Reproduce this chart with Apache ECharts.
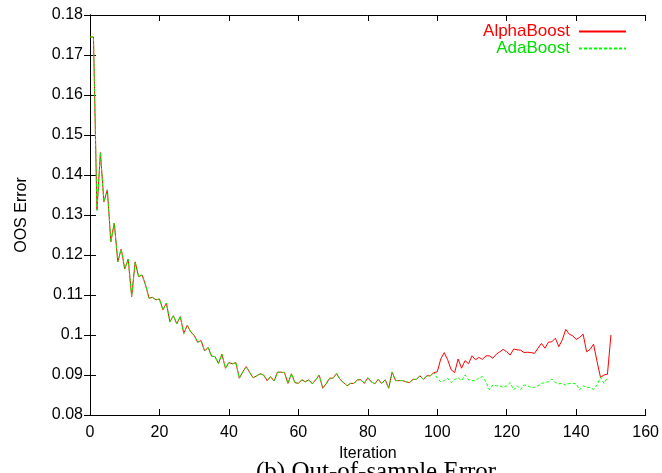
<!DOCTYPE html>
<html>
<head>
<meta charset="utf-8">
<script src="https://cdn.jsdelivr.net/npm/echarts@6/dist/echarts.min.js"></script>
<style>
html,body{margin:0;padding:0;background:#fff;}
#chart{width:662px;height:473px;}
</style>
</head>
<body>
<div id="chart"></div>
<script>
// Shared values, iterations 0..99 (both curves coincide)
var commonErr = [
0.1745,0.1745,0.1312,0.1456,0.1333,0.1363,0.1233,0.1280,0.1183,0.1215,
0.1165,0.1190,0.1096,0.1183,0.1146,0.1150,0.1125,0.1092,0.1094,0.1088,
0.1090,0.1063,0.1080,0.1033,0.1048,0.1028,0.1046,0.1004,0.1024,0.1008,
0.0999,0.0982,0.0986,0.0960,0.0969,0.0947,0.0946,0.0929,0.0952,0.0917,
0.0931,0.0928,0.0931,0.0892,0.0908,0.0921,0.0906,0.0893,0.0898,0.0903,
0.0900,0.0886,0.0896,0.0885,0.0907,0.0907,0.0906,0.0879,0.0903,0.0881,
0.0879,0.0888,0.0883,0.0888,0.0878,0.0888,0.0900,0.0867,0.0878,0.0892,
0.0892,0.0904,0.0889,0.0881,0.0873,0.0879,0.0879,0.0888,0.0888,0.0879,
0.0893,0.0883,0.0878,0.0889,0.0879,0.0888,0.0867,0.0907,0.0886,0.0886,
0.0886,0.0883,0.0881,0.0889,0.0889,0.0898,0.0889,0.0898,0.0898,0.0906
];
// AlphaBoost, iterations 100..150
var alphaTail = [
0.0908,0.0940,0.0956,0.0938,0.0913,0.0906,0.0940,0.0917,0.0936,0.0928,
0.0948,0.0938,0.0944,0.0939,0.0948,0.0948,0.0942,0.0952,0.0958,0.0964,
0.0958,0.0950,0.0965,0.0963,0.0962,0.0956,0.0957,0.0956,0.0954,0.0967,
0.0979,0.0967,0.0982,0.0983,0.0992,0.0971,0.0988,0.1014,0.1002,0.0998,
0.0989,0.0994,0.1002,0.0958,0.0964,0.0977,0.0934,0.0894,0.0900,0.0902,
0.1000
];
// AdaBoost, iterations 100..149
var adaTail = [
0.0892,0.0883,0.0886,0.0892,0.0881,0.0889,0.0893,0.0886,0.0900,0.0888,
0.0886,0.0886,0.0893,0.0896,0.0883,0.0863,0.0875,0.0873,0.0873,0.0869,
0.0873,0.0881,0.0863,0.0873,0.0864,0.0875,0.0873,0.0869,0.0869,0.0873,
0.0879,0.0881,0.0883,0.0890,0.0881,0.0878,0.0879,0.0875,0.0879,0.0879,
0.0878,0.0863,0.0873,0.0869,0.0869,0.0864,0.0875,0.0894,0.0879,0.0894
];
var xTicks = [0,20,40,60,80,100,120,140,160];
var yTicks = [0.08,0.09,0.10,0.11,0.12,0.13,0.14,0.15,0.16,0.17,0.18];

var alphaBoost = commonErr.concat(alphaTail);
var adaBoost = commonErr.concat(adaTail);
function pairs(arr){ return arr.map(function(v,i){ return [i, v]; }); }

var FONT = 'Liberation Sans, Arial, sans-serif';
var FS = 16;
var chart = echarts.init(document.getElementById('chart'));
var axisCommon = {
  axisLine:{show:true,lineStyle:{color:'#000',width:1}},
  axisTick:{show:true,inside:true,length:6,lineStyle:{color:'#000',width:1}},
  splitLine:{show:false}
};
chart.setOption({
  animation:false,
  backgroundColor:'#fff',
  grid:{left:90,right:15,top:15,bottom:58},
  legend:[
    {data:['AlphaBoost'],right:30,top:18,align:'right',itemWidth:47,itemHeight:10,itemGap:8,
     itemStyle:{opacity:0},
     textStyle:{color:'#ff0000',fontSize:17,fontFamily:FONT,padding:[0,4,0,0]}},
    {data:['AdaBoost'],right:30,top:35,align:'right',itemWidth:47,itemHeight:10,itemGap:8,
     itemStyle:{opacity:0},
     textStyle:{color:'#00e000',fontSize:17,fontFamily:FONT,padding:[0,4,0,0]}}
  ],
  xAxis:[
    Object.assign({type:'value',min:xTicks[0],max:xTicks[xTicks.length-1],interval:20,position:'bottom',
      name:'Iteration',nameLocation:'middle',nameGap:26,
      nameTextStyle:{color:'#000',fontSize:FS,fontFamily:FONT},
      axisLabel:{color:'#000',fontSize:FS,fontFamily:FONT,margin:10}},axisCommon),
    Object.assign({type:'value',min:xTicks[0],max:xTicks[xTicks.length-1],interval:20,position:'top',
      axisLabel:{show:false}},axisCommon)
  ],
  yAxis:[
    Object.assign({type:'value',min:yTicks[0],max:yTicks[yTicks.length-1],interval:0.01,position:'left',
      name:'OOS Error',nameLocation:'middle',nameGap:60,nameRotate:90,
      nameTextStyle:{color:'#000',fontSize:FS,fontFamily:FONT},
      axisLabel:{color:'#000',fontSize:FS,fontFamily:FONT,margin:7,
        formatter:function(v){return String(parseFloat(v.toFixed(2)));}}},axisCommon),
    Object.assign({type:'value',min:yTicks[0],max:yTicks[yTicks.length-1],interval:0.01,position:'right',
      axisLabel:{show:false}},axisCommon)
  ],
  graphic:[{
    type:'text',left:256,top:460,
    style:{text:'(b) Out-of-sample Error',font:'25px "Liberation Serif", "DejaVu Serif", serif',fill:'#000',letterSpacing:1.5}
  }],
  series:[
    {name:'AlphaBoost',type:'line',data:pairs(alphaBoost),symbol:'none',
     lineStyle:{color:'#ff0000',width:1},itemStyle:{color:'#ff0000'},z:2},
    {name:'AdaBoost',type:'line',data:pairs(adaBoost),symbol:'none',
     lineStyle:{color:'#00ff00',width:1,type:[3,2]},itemStyle:{color:'#00ff00'},z:3}
  ]
});
</script>
</body>
</html>
